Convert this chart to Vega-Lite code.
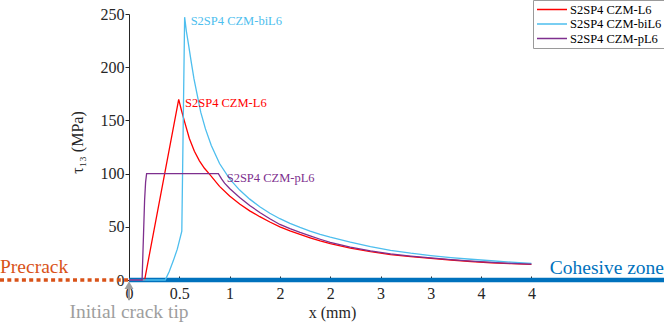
{
  "$schema": "https://vega.github.io/schema/vega-lite/v6.json",
  "width": 664,
  "height": 266,
  "autosize": "none",
  "padding": {"left": 0, "right": 0, "top": 14, "bottom": 43},
  "background": "white",
  "config": {
    "view": {"stroke": null},
    "font": "'Liberation Serif', 'Times New Roman', 'DejaVu Serif', serif",
    "axis": {"grid": false, "labelFont": "'Liberation Serif', 'Times New Roman', 'DejaVu Serif', serif", "titleFont": "'Liberation Serif', 'Times New Roman', 'DejaVu Serif', serif", "labelColor": "#262626", "titleColor": "#262626", "titleFontWeight": "normal", "domainColor": "#262626", "tickColor": "#262626"},
    "legend": {"labelFont": "'Liberation Serif', 'Times New Roman', 'DejaVu Serif', serif"},
    "text": {"font": "'Liberation Serif', 'Times New Roman', 'DejaVu Serif', serif"}
  },
  "datasets": {
    "curves": [
      {"s": "S2SP4 CZM-L6", "x": 0, "y": 0}, {"s": "S2SP4 CZM-L6", "x": 0.155, "y": 0}, {"s": "S2SP4 CZM-L6", "x": 0.494, "y": 169.7}, {"s": "S2SP4 CZM-L6", "x": 0.52, "y": 160}, {"s": "S2SP4 CZM-L6", "x": 0.55, "y": 149.5}, {"s": "S2SP4 CZM-L6", "x": 0.6, "y": 133}, {"s": "S2SP4 CZM-L6", "x": 0.65, "y": 121}, {"s": "S2SP4 CZM-L6", "x": 0.7, "y": 112}, {"s": "S2SP4 CZM-L6", "x": 0.75, "y": 105}, {"s": "S2SP4 CZM-L6", "x": 0.8, "y": 99.5}, {"s": "S2SP4 CZM-L6", "x": 0.9, "y": 88}, {"s": "S2SP4 CZM-L6", "x": 1.0, "y": 79}, {"s": "S2SP4 CZM-L6", "x": 1.1, "y": 71.5}, {"s": "S2SP4 CZM-L6", "x": 1.2, "y": 65}, {"s": "S2SP4 CZM-L6", "x": 1.3, "y": 59.5}, {"s": "S2SP4 CZM-L6", "x": 1.4, "y": 54.5}, {"s": "S2SP4 CZM-L6", "x": 1.5, "y": 50}, {"s": "S2SP4 CZM-L6", "x": 1.6, "y": 46.2}, {"s": "S2SP4 CZM-L6", "x": 1.7, "y": 42.8}, {"s": "S2SP4 CZM-L6", "x": 1.8, "y": 39.7}, {"s": "S2SP4 CZM-L6", "x": 1.9, "y": 36.8}, {"s": "S2SP4 CZM-L6", "x": 2.0, "y": 34.2}, {"s": "S2SP4 CZM-L6", "x": 2.2, "y": 30.0}, {"s": "S2SP4 CZM-L6", "x": 2.4, "y": 26.6}, {"s": "S2SP4 CZM-L6", "x": 2.6, "y": 23.9}, {"s": "S2SP4 CZM-L6", "x": 2.8, "y": 21.9}, {"s": "S2SP4 CZM-L6", "x": 3.0, "y": 20.3}, {"s": "S2SP4 CZM-L6", "x": 3.2, "y": 18.8}, {"s": "S2SP4 CZM-L6", "x": 3.4, "y": 17.4}, {"s": "S2SP4 CZM-L6", "x": 3.6, "y": 16.2}, {"s": "S2SP4 CZM-L6", "x": 3.8, "y": 15.3}, {"s": "S2SP4 CZM-L6", "x": 4.0, "y": 14.6},
      {"s": "S2SP4 CZM-biL6", "x": 0, "y": 0}, {"s": "S2SP4 CZM-biL6", "x": 0.36, "y": 0}, {"s": "S2SP4 CZM-biL6", "x": 0.4, "y": 8}, {"s": "S2SP4 CZM-biL6", "x": 0.44, "y": 18}, {"s": "S2SP4 CZM-biL6", "x": 0.48, "y": 29}, {"s": "S2SP4 CZM-biL6", "x": 0.525, "y": 46}, {"s": "S2SP4 CZM-biL6", "x": 0.553, "y": 247}, {"s": "S2SP4 CZM-biL6", "x": 0.57, "y": 234}, {"s": "S2SP4 CZM-biL6", "x": 0.593, "y": 220.5}, {"s": "S2SP4 CZM-biL6", "x": 0.62, "y": 204}, {"s": "S2SP4 CZM-biL6", "x": 0.646, "y": 189}, {"s": "S2SP4 CZM-biL6", "x": 0.68, "y": 173}, {"s": "S2SP4 CZM-biL6", "x": 0.713, "y": 157.7}, {"s": "S2SP4 CZM-biL6", "x": 0.76, "y": 142}, {"s": "S2SP4 CZM-biL6", "x": 0.818, "y": 126.4}, {"s": "S2SP4 CZM-biL6", "x": 0.9, "y": 109.5}, {"s": "S2SP4 CZM-biL6", "x": 1.0, "y": 95}, {"s": "S2SP4 CZM-biL6", "x": 1.1, "y": 84.5}, {"s": "S2SP4 CZM-biL6", "x": 1.2, "y": 76}, {"s": "S2SP4 CZM-biL6", "x": 1.3, "y": 68.8}, {"s": "S2SP4 CZM-biL6", "x": 1.4, "y": 62.7}, {"s": "S2SP4 CZM-biL6", "x": 1.5, "y": 57.6}, {"s": "S2SP4 CZM-biL6", "x": 1.6, "y": 53.2}, {"s": "S2SP4 CZM-biL6", "x": 1.7, "y": 49.4}, {"s": "S2SP4 CZM-biL6", "x": 1.8, "y": 46}, {"s": "S2SP4 CZM-biL6", "x": 1.9, "y": 42.9}, {"s": "S2SP4 CZM-biL6", "x": 2.0, "y": 40.2}, {"s": "S2SP4 CZM-biL6", "x": 2.2, "y": 35.5}, {"s": "S2SP4 CZM-biL6", "x": 2.4, "y": 31.4}, {"s": "S2SP4 CZM-biL6", "x": 2.6, "y": 27.9}, {"s": "S2SP4 CZM-biL6", "x": 2.8, "y": 25.2}, {"s": "S2SP4 CZM-biL6", "x": 3.0, "y": 23.0}, {"s": "S2SP4 CZM-biL6", "x": 3.2, "y": 21.1}, {"s": "S2SP4 CZM-biL6", "x": 3.4, "y": 19.5}, {"s": "S2SP4 CZM-biL6", "x": 3.6, "y": 18.1}, {"s": "S2SP4 CZM-biL6", "x": 3.8, "y": 16.8}, {"s": "S2SP4 CZM-biL6", "x": 4.0, "y": 15.6},
      {"s": "S2SP4 CZM-pL6", "x": 0, "y": 0}, {"s": "S2SP4 CZM-pL6", "x": 0.13, "y": 0}, {"s": "S2SP4 CZM-pL6", "x": 0.145, "y": 45}, {"s": "S2SP4 CZM-pL6", "x": 0.155, "y": 75}, {"s": "S2SP4 CZM-pL6", "x": 0.165, "y": 92}, {"s": "S2SP4 CZM-pL6", "x": 0.175, "y": 100}, {"s": "S2SP4 CZM-pL6", "x": 0.888, "y": 100}, {"s": "S2SP4 CZM-pL6", "x": 0.92, "y": 95}, {"s": "S2SP4 CZM-pL6", "x": 0.95, "y": 91}, {"s": "S2SP4 CZM-pL6", "x": 1.0, "y": 86}, {"s": "S2SP4 CZM-pL6", "x": 1.1, "y": 77.5}, {"s": "S2SP4 CZM-pL6", "x": 1.2, "y": 70}, {"s": "S2SP4 CZM-pL6", "x": 1.3, "y": 63.5}, {"s": "S2SP4 CZM-pL6", "x": 1.4, "y": 57.6}, {"s": "S2SP4 CZM-pL6", "x": 1.5, "y": 52.2}, {"s": "S2SP4 CZM-pL6", "x": 1.6, "y": 48.3}, {"s": "S2SP4 CZM-pL6", "x": 1.7, "y": 44.7}, {"s": "S2SP4 CZM-pL6", "x": 1.8, "y": 41.4}, {"s": "S2SP4 CZM-pL6", "x": 1.9, "y": 38.3}, {"s": "S2SP4 CZM-pL6", "x": 2.0, "y": 35.4}, {"s": "S2SP4 CZM-pL6", "x": 2.2, "y": 31.0}, {"s": "S2SP4 CZM-pL6", "x": 2.4, "y": 27.4}, {"s": "S2SP4 CZM-pL6", "x": 2.6, "y": 24.5}, {"s": "S2SP4 CZM-pL6", "x": 2.8, "y": 22.4}, {"s": "S2SP4 CZM-pL6", "x": 3.0, "y": 20.7}, {"s": "S2SP4 CZM-pL6", "x": 3.2, "y": 19.1}, {"s": "S2SP4 CZM-pL6", "x": 3.4, "y": 17.7}, {"s": "S2SP4 CZM-pL6", "x": 3.6, "y": 16.5}, {"s": "S2SP4 CZM-pL6", "x": 3.8, "y": 15.6}, {"s": "S2SP4 CZM-pL6", "x": 4.0, "y": 14.9}
    ],
    "curveLabels": [
      {"s": "S2SP4 CZM-L6", "x": 0.557, "y": 166},
      {"s": "S2SP4 CZM-biL6", "x": 0.613, "y": 243},
      {"s": "S2SP4 CZM-pL6", "x": 0.971, "y": 96}
    ],
    "cohesive": [{"x": 0, "y": 0}, {"x": 5.318, "y": 0}],
    "precrack": [{"x": -1.2823, "y": 0}, {"x": 0, "y": 0}]
  },
  "encoding": {
    "x": {
      "field": "x", "type": "quantitative",
      "scale": {"domain": [-1.2823, 5.318], "nice": false, "zero": false},
      "axis": {"title": "x (mm)", "values": [0, 0.5, 1, 1.5, 2, 2.5, 3, 3.5, 4], "format": "~g", "domain": false, "tickSize": -4, "labelPadding": 9, "labelFontSize": 16, "titleFontSize": 16, "titlePadding": 3}
    },
    "y": {
      "field": "y", "type": "quantitative",
      "scale": {"domain": [0, 250], "nice": false},
      "axis": {"title": "τ₁₃ (MPa)", "values": [0, 50, 100, 150, 200, 250], "offset": -129, "tickSize": 4, "labelPadding": 1, "labelFontSize": 16, "titleFontSize": 16, "titlePadding": 15, "titleY": 128}
    }
  },
  "layer": [
    {
      "data": {"name": "cohesive"},
      "mark": {"type": "line", "color": "#0072BD", "strokeWidth": 4.5, "strokeCap": "butt"},
      "encoding": {}
    },
    {
      "data": {"name": "precrack"},
      "mark": {"type": "line", "color": "#D95319", "strokeWidth": 3.5, "strokeDash": [4, 3.3], "strokeCap": "butt"},
      "encoding": {}
    },
    {
      "data": {"name": "curves"},
      "mark": {"type": "line", "strokeWidth": 1.3},
      "encoding": {
        "color": {
          "field": "s", "type": "nominal",
          "scale": {"domain": ["S2SP4 CZM-L6", "S2SP4 CZM-biL6", "S2SP4 CZM-pL6"], "range": ["#FF0000", "#4DBEEE", "#7E2F8E"]},
          "legend": {"title": null, "orient": "none", "legendX": 533, "legendY": -14, "strokeColor": "#9a9a9a", "fillColor": "white", "padding": 3, "symbolType": "stroke", "symbolSize": 900, "symbolStrokeWidth": 1.5, "clipHeight": 13, "labelFontSize": 12.5, "labelColor": "black", "labelOffset": 2, "rowPadding": 1.5, "cornerRadius": 0}
        }
      }
    },
    {
      "data": {"name": "curveLabels"},
      "mark": {"type": "text", "align": "left", "baseline": "middle", "fontSize": 12.5},
      "encoding": {
        "text": {"field": "s"},
        "color": {"field": "s", "type": "nominal", "legend": null}
      }
    },
    {
      "data": {"values": [{"x": -1.2823, "y": 7, "label": "Precrack"}]},
      "mark": {"type": "text", "align": "left", "baseline": "alphabetic", "fontSize": 19.5, "color": "#D95319"},
      "encoding": {"text": {"field": "label"}}
    },
    {
      "data": {"values": [{"x": 5.318, "y": 6, "label": "Cohesive zone"}]},
      "mark": {"type": "text", "align": "right", "baseline": "alphabetic", "fontSize": 19.5, "color": "#0072BD"},
      "encoding": {"text": {"field": "label"}}
    },
    {
      "data": {"values": [{"x": 0, "y": -36, "label": "Initial crack tip"}]},
      "mark": {"type": "text", "align": "center", "baseline": "alphabetic", "fontSize": 19.5, "color": "#9E9E9E"},
      "encoding": {"text": {"field": "label"}}
    },
    {
      "data": {"values": [{"x": 0, "y": -8, "y2": -19}]},
      "mark": {"type": "rule", "color": "#9E9E9E", "strokeWidth": 2},
      "encoding": {"y2": {"field": "y2"}}
    },
    {
      "data": {"values": [{"x": 0, "y": -4.8}]},
      "mark": {"type": "point", "shape": "triangle-up", "size": 80, "filled": true, "color": "#9E9E9E", "opacity": 1},
      "encoding": {}
    }
  ]
}
